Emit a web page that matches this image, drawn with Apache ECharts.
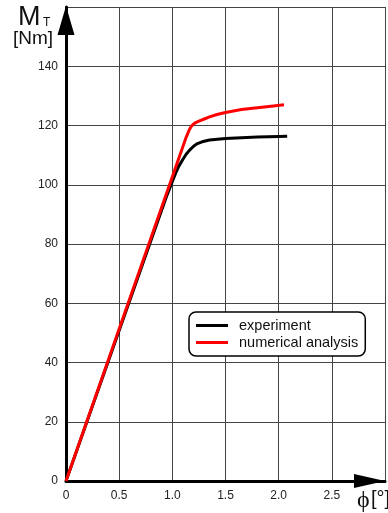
<!DOCTYPE html>
<html>
<head>
<meta charset="utf-8">
<script src="https://cdn.jsdelivr.net/npm/echarts@6/dist/echarts.min.js"></script>
<style>
html,body{margin:0;padding:0;background:#fff;}
#c{width:388px;height:513px;}
</style>
</head>
<body>
<div id="c"></div>
<script>
// Data
const xTicks = [0, 0.5, 1.0, 1.5, 2.0, 2.5, 3.0];
const yTicks = [0, 20, 40, 60, 80, 100, 120, 140, 160];
const expPhi = [0, 0.95, 0.99, 1.03, 1.06, 1.1, 1.13, 1.16, 1.2, 1.23, 1.28, 1.35, 1.5, 1.65, 1.8, 2.0, 2.08];
const expM   = [0, 96.5, 100.2, 103.8, 106.2, 108.6, 110.3, 111.6, 113.0, 113.8, 114.5, 115.1, 115.6, 115.9, 116.1, 116.3, 116.4];
const numPhi = [0, 1.13, 1.16, 1.18, 1.2, 1.22, 1.25, 1.3, 1.35, 1.42, 1.5, 1.65, 1.8, 1.95, 2.05];
const numM   = [0, 116.0, 118.6, 119.8, 120.5, 121.0, 121.5, 122.2, 122.9, 123.7, 124.4, 125.4, 126.0, 126.6, 127.0];
const seriesNames = ['experiment', 'numerical analysis'];

const pairs = (xs, ys) => xs.map((x, i) => [x, ys[i]]);

const chart = echarts.init(document.getElementById('c'), null, {renderer: 'canvas'});
const font = 'Liberation Sans, Arial, sans-serif';
chart.setOption({
  animation: false,
  backgroundColor: '#fff',
  grid: {left: 66, right: 2, top: 7, bottom: 32, containLabel: false},
  xAxis: {
    type: 'value', min: xTicks[0], max: xTicks[xTicks.length - 1], interval: 0.5,
    axisLine: {show: true, lineStyle: {color: '#000', width: 3},
      symbol: ['none', 'triangle'], symbolSize: [14, 31], symbolOffset: [0, -15.5]},
    axisTick: {show: false},
    axisLabel: {color: '#222', fontSize: 12, fontFamily: font, margin: 9,
      formatter: v => (v === 3 ? '' : (v === 0 ? '0' : v.toFixed(1)))},
    splitLine: {show: true, lineStyle: {color: '#444', width: 1}}
  },
  yAxis: {
    type: 'value', min: yTicks[0], max: yTicks[yTicks.length - 1], interval: 20,
    axisLine: {show: true, lineStyle: {color: '#000', width: 3},
      symbol: ['none', 'triangle'], symbolSize: [17, 29], symbolOffset: [0, -13.5]},
    axisTick: {show: false},
    axisLabel: {color: '#222', fontSize: 12, fontFamily: font, margin: 8,
      formatter: v => (v === 160 ? '' : String(v))},
    splitLine: {show: true, lineStyle: {color: '#444', width: 1}}
  },
  legend: {
    orient: 'vertical', left: 189, top: 312,
    data: seriesNames,
    icon: 'rect', itemWidth: 32, itemHeight: 3, itemGap: 0,
    padding: [5, 7, 5, 7],
    borderColor: '#000', borderWidth: 1.5, borderRadius: 7,
    backgroundColor: '#fff',
    textStyle: {fontSize: 14.5, fontFamily: font, color: '#111', padding: [0, 0, 0, 6], lineHeight: 17}
  },
  series: [
    {name: seriesNames[0], type: 'line', data: pairs(expPhi, expM), showSymbol: false,
     smooth: false, color: '#000', lineStyle: {color: '#000', width: 3, join: 'round'}, z: 3},
    {name: seriesNames[1], type: 'line', data: pairs(numPhi, numM), showSymbol: false,
     smooth: false, color: '#f00', lineStyle: {color: '#f00', width: 3, join: 'round'}, z: 4}
  ],
  graphic: [
    {type: 'text', left: 18, top: 4, style: {text: 'M', font: '27px ' + font, fill: '#111'}},
    {type: 'text', left: 43, top: 17, style: {text: 'T', font: '12px ' + font, fill: '#111'}},
    {type: 'text', left: 13, top: 29, style: {text: '[Nm]', font: '19px ' + font, fill: '#111'}},
    {type: 'text', left: 357, top: 489, style: {text: 'ϕ', font: '24px Liberation Serif, serif', fill: '#111'}},
    {type: 'text', left: 371, top: 489, style: {text: '[°]', font: '20px ' + font, fill: '#111'}}
  ]
});
</script>
</body>
</html>
